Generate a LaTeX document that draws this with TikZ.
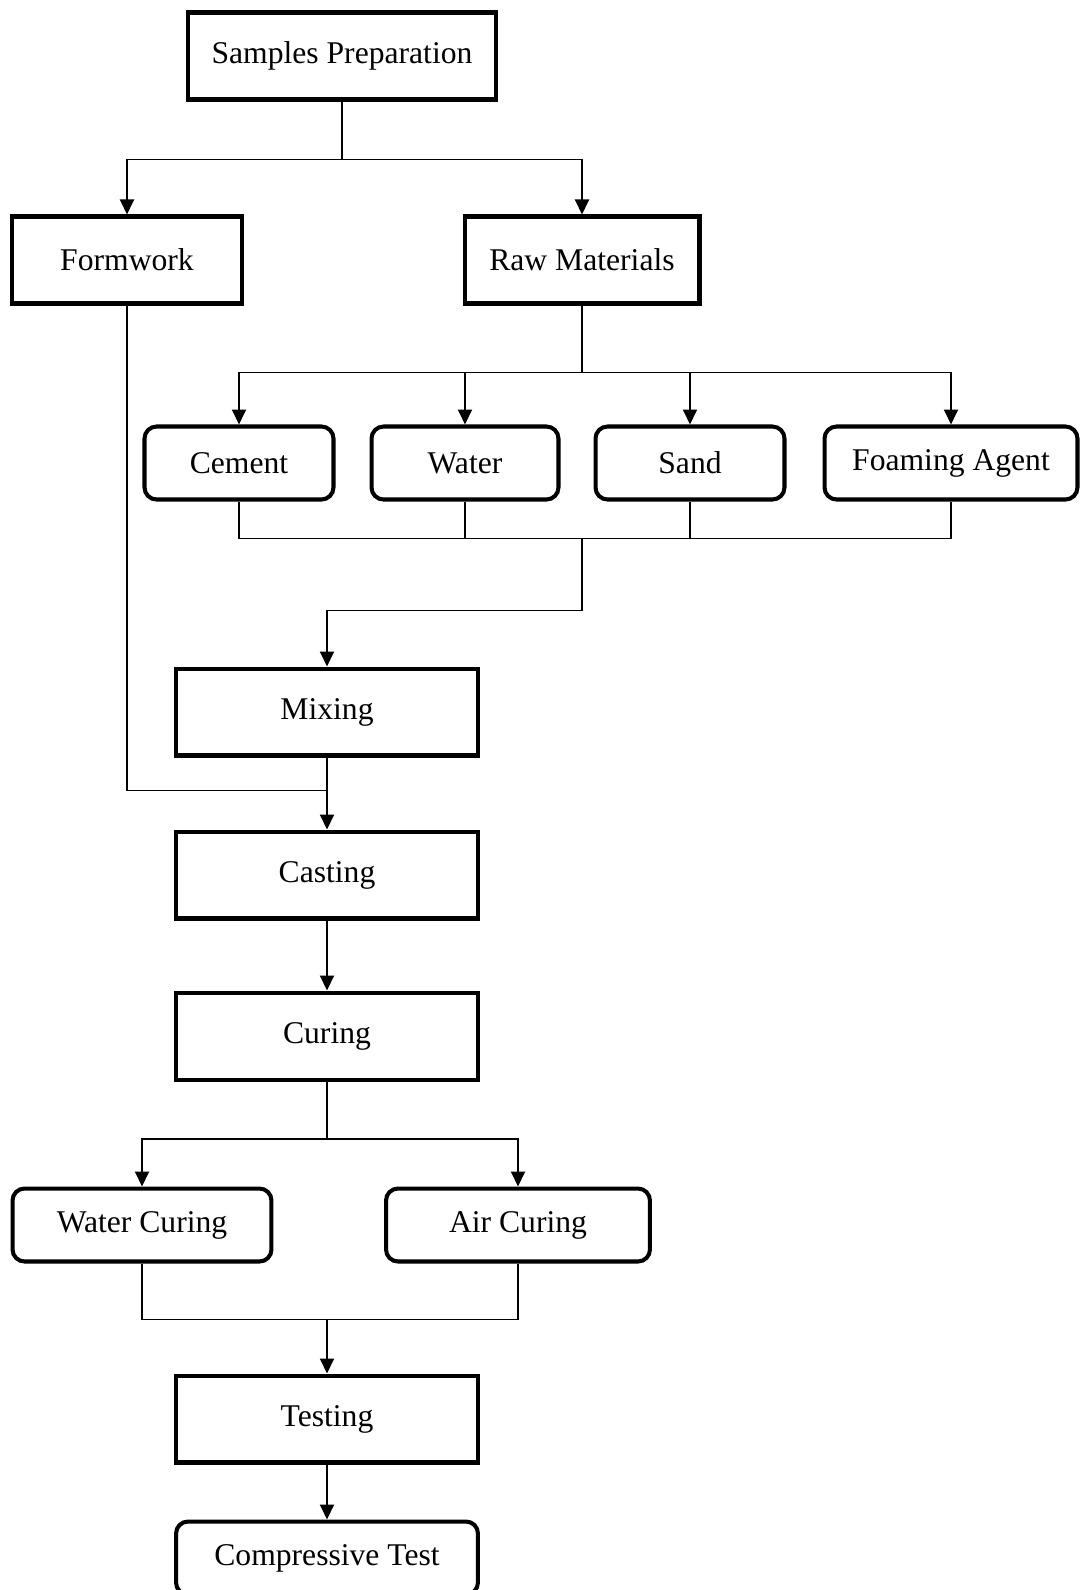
\documentclass[tikz,border=0pt]{standalone}
\usepackage{fontspec}
\setmainfont{Liberation Serif}
\usetikzlibrary{positioning,arrows.meta}

\begin{document}
\begin{tikzpicture}[x=0.02cm, y=-0.02cm,
    box/.style={draw, line width=2.3pt, minimum height=1.74cm, align=center, font=\fontsize{18}{21}\selectfont},
    rbox/.style={box, rounded corners=0.24cm, minimum height=1.46cm},
    line/.style={line width=1.1pt},
    arr/.style={line, -{Triangle[length=0.3cm, width=0.28cm]}}]
    \useasboundingbox (0,0) rectangle (1081,1590);

    % Προετοιμασία
    \node[box, minimum width=6.18cm] (sp) at (342,56) {Samples Preparation};
    \node[box, minimum width=4.6cm] (form) at (127,260) {Formwork};
    \node[box, minimum width=4.7cm] (raw) at (582,260) {Raw Materials};

    % Υλικά
    \node[rbox, minimum width=3.78cm] (cement) at (239,463) {Cement};
    \node[rbox, minimum width=3.74cm] (water) at (465,463) {Water};
    \node[rbox, minimum width=3.78cm] (sand) at (690,463) {Sand};
    \node[rbox, minimum width=5.06cm] (foam) at (951,463) {Foaming Agent};

    % Κύρια στήλη
    \node[box, minimum width=6.06cm] (mixing) at (327,712) {Mixing};
    \node[box, minimum width=6.06cm] (casting) [below=1.44cm of mixing] {Casting};
    \node[box, minimum width=6.06cm] (curing) [below=1.4cm of casting] {Curing};
    \node[rbox, minimum width=5.18cm] (wcur) at (142,1225) {Water Curing};
    \node[rbox, minimum width=5.28cm] (acur) at (518,1225) {Air Curing};
    \node[box, minimum width=6.06cm] (testing) at (327,1419) {Testing};
    \node[rbox, minimum width=6.04cm] (comp) [below=1.1cm of testing] {Compressive Test};

    % Συνδέσεις
    \draw[line] (sp.south) -- ++(0,58) coordinate (j1);
    \draw[arr] (j1) -| (form.north);
    \draw[arr] (j1) -| (raw.north);

    \draw[line] (raw.south) -- ++(0,67) coordinate (j2);
    \foreach \n in {cement,water,sand,foam}
        \draw[arr] (j2) -| (\n.north);

    \draw[line] (cement.south) -- ++(0,37) coordinate (j3) -| (foam.south);
    \draw[line] (water.south) -- (water.south |- j3);
    \draw[line] (sand.south) -- (sand.south |- j3);
    \draw[line] (raw.south |- j3) -- ++(0,72) coordinate (j4);
    \draw[arr] (j4) -| (mixing.north);

    \draw[line] (form.south) -- ++(0,485) coordinate (j5) -- (j5 -| mixing.south);
    \draw[arr] (mixing.south) -- (casting.north);
    \draw[arr] (casting.south) -- (curing.north);

    \draw[line] (curing.south) -- ++(0,57) coordinate (j6);
    \draw[arr] (j6) -| (wcur.north);
    \draw[arr] (j6) -| (acur.north);

    \draw[line] (wcur.south) -- ++(0,56) coordinate (j7) -| (acur.south);
    \draw[arr] (j7 -| testing.north) -- (testing.north);
    \draw[arr] (testing.south) -- (comp.north);
\end{tikzpicture}
\end{document}
